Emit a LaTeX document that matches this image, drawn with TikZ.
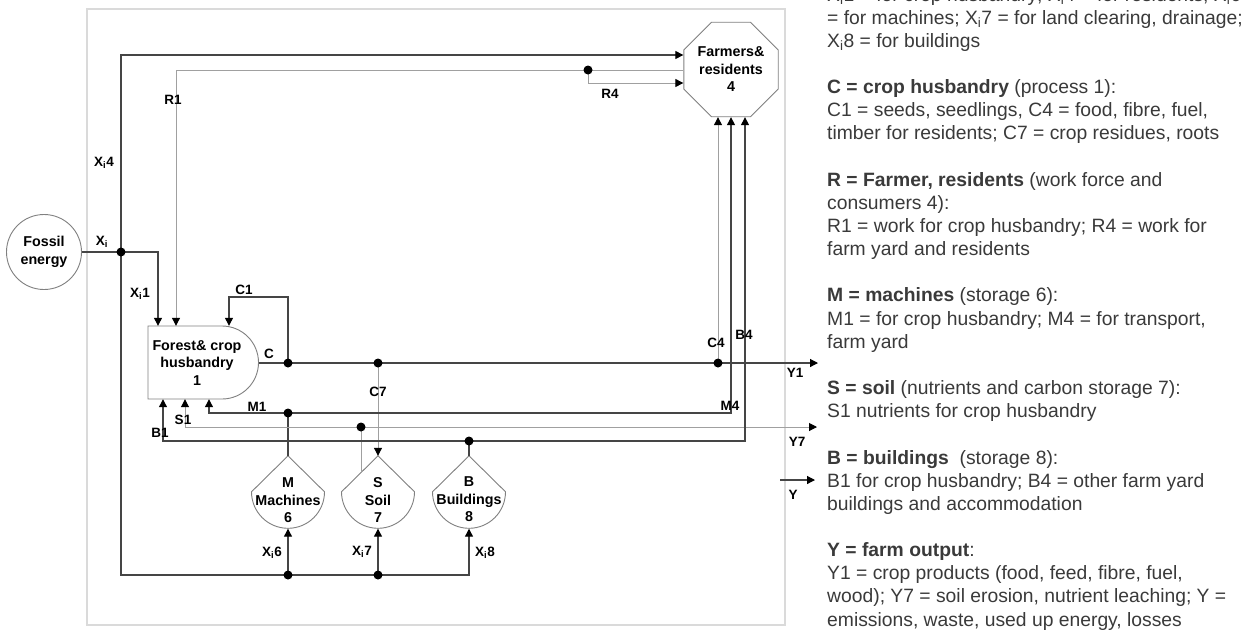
\documentclass[tikz,border=0pt]{standalone}
\usepackage{fontspec}
\setmainfont{Liberation Sans}
\usetikzlibrary{arrows.meta,shapes.geometric}
\definecolor{ln}{HTML}{454545}
\definecolor{lnl}{HTML}{A0A0A0}
\definecolor{frm}{HTML}{DADADA}
\definecolor{txt}{HTML}{3A3A3A}
\definecolor{shp}{HTML}{808080}
\newcommand\xsub{\textsubscript{i}}
\newcommand\rtline[3]{\node[rtxt] (#1) at (827,{1+23.15*#2}) {#3};}
\begin{document}
\begin{tikzpicture}[x=1pt,y=-1pt,
  flow/.style={draw=ln, line width=1.2pt},
  flowl/.style={draw=lnl, line width=1pt},
  arr/.style={-{Triangle[length=8pt,width=8pt,color=black]}},
  jdot/.style={circle, fill=black, inner sep=0pt, minimum size=9pt},
  lbl/.style={font=\fontsize{13.5}{16}\selectfont\bfseries, inner sep=0pt},
  ntext/.style={font=\fontsize{14.3}{17.5}\selectfont\bfseries, align=center, inner sep=0pt},
  outl/.style={draw=shp, line width=0.9pt},
  rtxt/.style={anchor=base west, inner sep=0pt, text=txt, font=\fontsize{19.3}{23.15}\selectfont},
  box/.style={inner sep=0pt, draw=none}
]
\useasboundingbox (0,0) rectangle (1249,630);
\clip (0,0) rectangle (1249,630);
\fill[white] (0,0) rectangle (1249,630);
\draw[draw=frm, line width=1.2pt] (87,9) rectangle (785,625);

% ---- main nodes
\node[circle, outl, minimum size=75pt, ntext] (fossil) at (44,252) {Fossil\\energy};
\node[regular polygon, regular polygon sides=8, minimum size=82.3pt, outl, ntext] (farm) at (731,69.5) {Farmers\&\\residents\\4};

\node[box, minimum width=110.5pt, minimum height=73pt] (procbox) at (203.25,362.5) {};
\draw[outl] (222,326) -- (148,326) -- (148,399) -- (222,399) arc[start angle=-90,end angle=90,radius=36.5pt] -- cycle;
\node[ntext] (proc) at (197,363) {Forest\& crop\\husbandry\\1};

\node[box, minimum width=73pt, minimum height=72.5pt] (mach) at (288,492.25) {};
\draw[outl] (mach.north) -- ++(36.5,36) arc[start angle=0,end angle=-180,radius=36.5pt] -- cycle;
\node[ntext] (machtxt) at (288,500.5) {M\\Machines\\6};

\node[box, minimum width=73pt, minimum height=72.5pt] (soil) at (378,492.25) {};
\draw[outl] (soil.north) -- ++(36.5,36) arc[start angle=0,end angle=-180,radius=36.5pt] -- cycle;
\node[ntext] (soiltxt) at (378,500) {S\\Soil\\7};

\node[box, minimum width=73pt, minimum height=72.5pt] (bldg) at (469,492.25) {};
\draw[outl] (bldg.north) -- ++(36.5,36) arc[start angle=0,end angle=-180,radius=36.5pt] -- cycle;
\node[ntext] (bldgtxt) at (469,499.5) {B\\Buildings\\8};

% ---- junctions and coordinates
\coordinate (xtop) at (121,55);
\coordinate (xbot) at (121,575);
\coordinate (rtop) at (176,70);
\coordinate (c1top) at (288,297);
\coordinate (y1end) at (818,363);
\coordinate (y7end) at (817,427);
\coordinate (ystart) at (780,480);
\coordinate (yend) at (815,480);

% ---- fossil energy flows
\draw[flow] (fossil.east) -- (121,252);
\draw[flow,arr] (121,252) -| (158,0 |- procbox.north);
\draw[flow,arr] (121,252) -- (xtop) -- (xtop -| farm.west);
\draw[flow,arr] (121,252) -- (xbot) -| (bldg.south);
\draw[flow,arr] (288,575) -- (mach.south);
\draw[flow,arr] (378,575) -- (soil.south);

% ---- work of farmers
\draw[flowl,arr] (farm.west |- rtop) -- (rtop) -- (rtop |- procbox.north);
\draw[flowl,arr] (588,70) |- (farm.west |- 0,83);

% ---- crop products
\draw[flow,arr] (procbox.east |- y1end) -- (y1end);
\draw[flow,arr] (288,363) -- (c1top) -| (229,0 |- procbox.north);
\draw[flowl,arr] (378,363) -- (soil.north);
\draw[flowl,arr] (718,363) -- (718,0 |- farm.south);

% ---- machines
\draw[flow] (mach.north) -- (288,413);
\draw[flow,arr] (288,413) -| (209,0 |- procbox.south);
\draw[flow,arr] (288,413) -| (farm.south);

% ---- soil
\draw[flowl] (soil.north) ++(-17,17) -- (361,427);
\draw[flowl,arr] (361,427) -| (185,0 |- procbox.south);
\draw[flowl,arr] (361,427) -- (y7end);

% ---- buildings
\draw[flow] (bldg.north) -- (469,441);
\draw[flow,arr] (469,441) -| (163,0 |- procbox.south);
\draw[flow,arr] (469,441) -| (745,0 |- farm.south);

% ---- output Y
\draw[flow,arr] (ystart) -- (yend);

% ---- junction dots
\node[jdot] (jx) at (121,252) {};
\node[jdot] (d6) at (288,575) {};
\node[jdot] (d7) at (378,575) {};
\node[jdot] (dr) at (588,70) {};
\node[jdot] (dc1) at (288,363) {};
\node[jdot] (dc7) at (378,363) {};
\node[jdot] (dc4) at (718,363) {};
\node[jdot] (dm) at (288,413) {};
\node[jdot] (ds) at (361,427) {};
\node[jdot] (db) at (469,441) {};

% ---- labels
\node[lbl] (lxi4) at (104,163) {X\xsub4};
\node[lbl] (lr1) at (173,100) {R1};
\node[lbl] (lxi) at (102,242) {X\xsub};
\node[lbl] (lxi1) at (140,294) {X\xsub1};
\node[lbl] (lc1) at (244,290) {C1};
\node[lbl] (lc) at (269,354) {C};
\node[lbl] (lc7) at (378,392) {C7};
\node[lbl] (lm1) at (257,407) {M1};
\node[lbl] (ls1) at (183,420) {S1};
\node[lbl] (lb1) at (160,433) {B1};
\node[lbl] (lc4) at (716,343) {C4};
\node[lbl] (lb4) at (744,335) {B4};
\node[lbl] (lm4) at (730,406) {M4};
\node[lbl] (ly1) at (795,373) {Y1};
\node[lbl] (ly7) at (797,442) {Y7};
\node[lbl] (ly) at (793,495) {Y};
\node[lbl] (lr4) at (610,94) {R4};
\node[lbl] (lxi6) at (272,553) {X\xsub6};
\node[lbl] (lxi7) at (362,552) {X\xsub7};
\node[lbl] (lxi8) at (485,553) {X\xsub8};

% ---- legend text
\rtline{t0}{0}{X\xsub1 = for crop husbandry; X\xsub4 = for residents; X\xsub6}
\rtline{t1}{1}{= for machines; X\xsub7 = for land clearing, drainage;}
\rtline{t2}{2}{X\xsub8 = for buildings}
\rtline{t4}{4}{\textbf{C = crop husbandry} (process 1):}
\rtline{t5}{5}{C1 = seeds, seedlings, C4 = food, fibre, fuel,}
\rtline{t6}{6}{timber for residents; C7 = crop residues, roots}
\rtline{t8}{8}{\textbf{R = Farmer, residents} (work force and}
\rtline{t9}{9}{consumers 4):}
\rtline{t10}{10}{R1 = work for crop husbandry; R4 = work for}
\rtline{t11}{11}{farm yard and residents}
\rtline{t13}{13}{\textbf{M = machines} (storage 6):}
\rtline{t14}{14}{M1 = for crop husbandry; M4 = for transport,}
\rtline{t15}{15}{farm yard}
\rtline{t17}{17}{\textbf{S = soil} (nutrients and carbon storage 7):}
\rtline{t18}{18}{S1 nutrients for crop husbandry}
\rtline{t20}{20}{\textbf{B = buildings}\ \ (storage 8):}
\rtline{t21}{21}{B1 for crop husbandry; B4 = other farm yard}
\rtline{t22}{22}{buildings and accommodation}
\rtline{t24}{24}{\textbf{Y = farm output}:}
\rtline{t25}{25}{Y1 = crop products (food, feed, fibre, fuel,}
\rtline{t26}{26}{wood); Y7 = soil erosion, nutrient leaching; Y =}
\rtline{t27}{27}{emissions, waste, used up energy, losses}
\end{tikzpicture}
\end{document}
